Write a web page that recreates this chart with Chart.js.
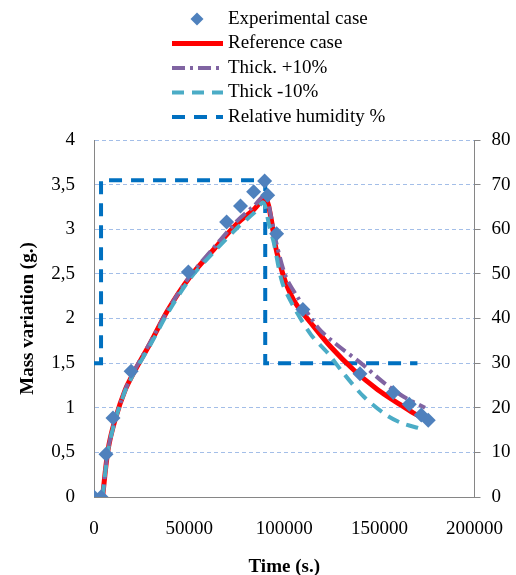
<!DOCTYPE html>
<html>
<head>
<meta charset="utf-8">
<script src="https://cdn.jsdelivr.net/npm/chart.js@4/dist/chart.umd.min.js"></script>
<style>
  body { margin: 0; background: #fff; }
  #wrap { width: 516px; height: 575px; position: relative; }
</style>
</head>
<body>
<div id="wrap"><canvas id="massChart"></canvas></div>
<script>
// values
const expTime = [0, 3700, 6300, 10000, 19500, 49600, 69700, 77000, 83900, 89700, 91300, 96000, 109800, 139800, 157300, 165700, 172000, 175700];
const expMass = [0, 0, 0.48, 0.885, 1.41, 2.52, 3.08, 3.26, 3.42, 3.54, 3.38, 2.95, 2.10, 1.38, 1.17, 1.04, 0.92, 0.86];

const refTime = [4500, 7400, 11000, 16400, 21600, 29500, 39000, 50600, 62800, 75500, 84000, 90200, 92900, 95500, 97100, 100800, 106000, 114000, 124500, 136700, 149300, 159900, 168000, 176200];
const refMass = [0, 0.53, 0.86, 1.2, 1.42, 1.72, 2.1, 2.47, 2.77, 3.07, 3.22, 3.35, 3.14, 2.8, 2.66, 2.40, 2.17, 1.95, 1.68, 1.42, 1.2, 1.05, 0.94, 0.85];

const plusTime = [4500, 7400, 11000, 16400, 21600, 29500, 39000, 50600, 62800, 75500, 84000, 90000, 93000, 95800, 100800, 107000, 118000, 128000, 140300, 151800, 163000, 174000];
const plusMass = [0, 0.53, 0.86, 1.2, 1.43, 1.73, 2.1, 2.48, 2.79, 3.1, 3.26, 3.38, 3.15, 2.85, 2.47, 2.24, 1.89, 1.70, 1.50, 1.29, 1.12, 1.00];

const minusTime = [4500, 7400, 11000, 16400, 21600, 29500, 39000, 50600, 62800, 75500, 84000, 89000, 92000, 94500, 99000, 105000, 114000, 123000, 131000, 142000, 153500, 161500, 171000];
const minusMass = [0, 0.52, 0.85, 1.19, 1.41, 1.7, 2.07, 2.45, 2.74, 3.02, 3.18, 3.3, 3.05, 2.85, 2.40, 2.13, 1.82, 1.61, 1.39, 1.12, 0.92, 0.83, 0.77];

const rhTime = [0, 3700, 3700, 90000, 90000, 170000];
const rhValue = [30, 30, 71, 71, 30, 30];

const legendLabels = ['Experimental case', 'Reference case', 'Thick. +10%', 'Thick -10%', 'Relative humidity %'];

const serif = '"Liberation Serif", "Times New Roman", serif';

function pts(xs, ys) {
    return xs.map((x, i) => ({ x: x, y: ys[i] }));
}

// legend drawn as a column above the plot, like the original
const columnLegend = {
    id: 'columnLegend',
    afterDraw(chart) {
        const ctx = chart.ctx;
        ctx.save();
        ctx.font = '19px ' + serif;
        ctx.textBaseline = 'middle';
        ctx.fillStyle = '#000';
        legendLabels.forEach((label, i) => {
            const ds = chart.data.datasets[i];
            const y = 19 + i * 24.5;
            if (i === 0) {
                ctx.fillStyle = ds.pointBackgroundColor;
                ctx.beginPath();
                ctx.moveTo(197 - 6.5, y);
                ctx.lineTo(197, y - 6.5);
                ctx.lineTo(197 + 6.5, y);
                ctx.lineTo(197, y + 6.5);
                ctx.closePath();
                ctx.fill();
            } else {
                ctx.strokeStyle = ds.borderColor;
                ctx.lineWidth = ds.borderWidth;
                ctx.setLineDash(ds.borderDash || []);
                ctx.beginPath();
                ctx.moveTo(172, y);
                ctx.lineTo(223, y);
                ctx.stroke();
                ctx.setLineDash([]);
            }
            ctx.fillStyle = '#000';
            ctx.fillText(label, 228, y);
        });
        ctx.restore();
    }
};

const ctx = document.getElementById('massChart').getContext('2d');

const massChart = new Chart(ctx, {
    type: 'line',
    data: {
        datasets: [{
            label: legendLabels[0],
            data: pts(expTime, expMass),
            showLine: false,
            pointStyle: 'rectRot',
            pointRadius: 7.5,
            pointBackgroundColor: '#4F81BD',
            pointBorderWidth: 0,
            borderColor: '#4F81BD',
            yAxisID: 'y',
            order: 0
        }, {
            label: legendLabels[1],
            data: pts(refTime, refMass),
            borderColor: '#FF0000',
            borderWidth: 5,
            pointRadius: 0,
            tension: 0.3,
            yAxisID: 'y',
            order: 3
        }, {
            label: legendLabels[2],
            data: pts(plusTime, plusMass),
            borderColor: '#8064A2',
            borderWidth: 4,
            borderDash: [13, 5, 3, 5],
            pointRadius: 0,
            tension: 0.3,
            yAxisID: 'y',
            order: 2
        }, {
            label: legendLabels[3],
            data: pts(minusTime, minusMass),
            borderColor: '#4BACC6',
            borderWidth: 4,
            borderDash: [12, 8],
            pointRadius: 0,
            tension: 0.3,
            yAxisID: 'y',
            order: 1
        }, {
            label: legendLabels[4],
            data: pts(rhTime, rhValue),
            borderColor: '#0070C0',
            borderWidth: 4,
            borderDash: [13, 9],
            pointRadius: 0,
            tension: 0,
            yAxisID: 'y2',
            order: 4
        }]
    },
    options: {
        responsive: true,
        maintainAspectRatio: false,
        animation: false,
        layout: { padding: { top: 140, left: 0, right: 0, bottom: 0 } },
        plugins: {
            legend: { display: false },
            tooltip: { enabled: false }
        },
        scales: {
            x: {
                type: 'linear',
                min: 0,
                max: 200000,
                afterFit: s => { s.height = 78; },
                ticks: {
                    stepSize: 50000,
                    padding: 13,
                    color: '#000',
                    font: { family: serif, size: 19 },
                    callback: v => String(v)
                },
                grid: { display: false },
                border: { display: true, color: '#868686', width: 1 },
                title: {
                    display: true,
                    text: 'Time (s.)',
                    color: '#000',
                    font: { family: serif, size: 19, weight: 'bold', lineHeight: 1 },
                    padding: { top: 0, bottom: -2 }
                }
            },
            y: {
                position: 'left',
                min: 0,
                max: 4,
                afterFit: s => { s.width = 94; },
                ticks: {
                    stepSize: 0.5,
                    padding: 19,
                    color: '#000',
                    font: { family: serif, size: 19 },
                    callback: v => String(v).replace('.', ',')
                },
                grid: { color: '#A3BEE8', lineWidth: 1, drawTicks: false },
                border: { color: '#868686', width: 1, dash: [4, 3] },
                title: {
                    display: true,
                    text: 'Mass variation (g.)',
                    color: '#000',
                    font: { family: serif, size: 19, weight: 'bold' },
                    padding: { top: 17, bottom: 0 }
                }
            },
            y2: {
                position: 'right',
                min: 0,
                max: 80,
                afterFit: s => { s.width = 39; },
                ticks: {
                    stepSize: 10,
                    padding: 11,
                    color: '#000',
                    font: { family: serif, size: 19 }
                },
                grid: { drawOnChartArea: false, drawTicks: true, tickLength: 6, color: '#868686' },
                border: { color: '#868686', width: 1 }
            }
        }
    },
    plugins: [columnLegend]
});
</script>
</body>
</html>
